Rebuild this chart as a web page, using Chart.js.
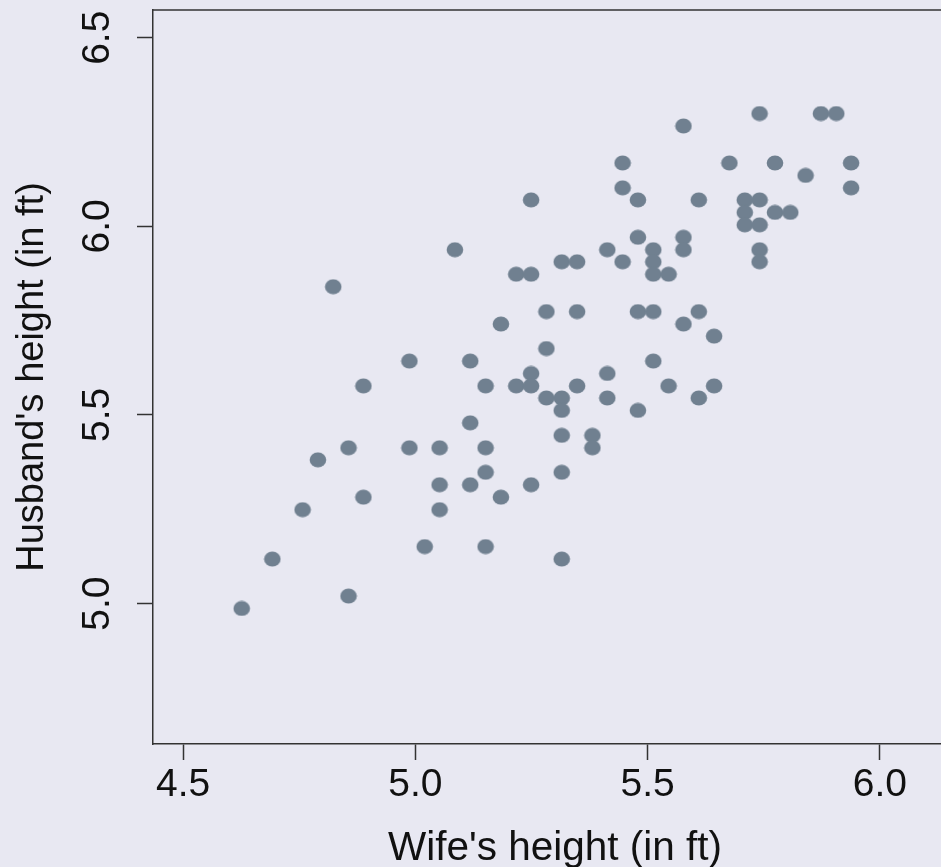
<!DOCTYPE html>
<html>
<head>
<meta charset="utf-8">
<script src="https://cdn.jsdelivr.net/npm/chart.js@4"></script>
<style>
  html, body { margin: 0; padding: 0; background: #e8e8f2; overflow: hidden; }
  #wrap { width: 941px; height: 867px; position: relative; }
</style>
</head>
<body>
<div id="wrap"><canvas id="c"></canvas></div>
<script>
// Heights of married couples, in feet
const wifeHeight = [
  4.626, 4.692, 4.757, 4.790, 4.856, 4.856, 4.823, 4.888, 4.888, 4.987,
  4.987, 5.020, 5.085, 5.052, 5.052, 5.052, 5.118, 5.118, 5.118, 5.151,
  5.151, 5.151, 5.151, 5.184, 5.184, 5.217, 5.217, 5.249, 5.249, 5.249,
  5.249, 5.249, 5.282, 5.282, 5.282, 5.315, 5.315, 5.315, 5.315, 5.315,
  5.315, 5.348, 5.348, 5.348, 5.381, 5.381, 5.413, 5.413, 5.413, 5.446,
  5.446, 5.446, 5.479, 5.479, 5.479, 5.479, 5.512, 5.512, 5.512, 5.512,
  5.512, 5.545, 5.545, 5.577, 5.577, 5.577, 5.577, 5.610, 5.610, 5.610,
  5.643, 5.643, 5.676, 5.709, 5.709, 5.709, 5.741, 5.741, 5.741, 5.741,
  5.741, 5.774, 5.774, 5.807, 5.840, 5.873, 5.906, 5.938, 5.938
];
const husbandHeight = [
  4.987, 5.118, 5.249, 5.381, 5.413, 5.020, 5.840, 5.577, 5.282, 5.643,
  5.413, 5.151, 5.938, 5.413, 5.315, 5.249, 5.643, 5.479, 5.315, 5.577,
  5.413, 5.348, 5.151, 5.741, 5.282, 5.873, 5.577, 6.070, 5.873, 5.610,
  5.577, 5.315, 5.774, 5.676, 5.545, 5.906, 5.545, 5.512, 5.446, 5.348,
  5.118, 5.906, 5.774, 5.577, 5.446, 5.413, 5.938, 5.610, 5.545, 6.168,
  6.102, 5.906, 6.070, 5.971, 5.774, 5.512, 5.938, 5.906, 5.873, 5.774,
  5.643, 5.873, 5.577, 6.266, 5.971, 5.938, 5.741, 6.070, 5.774, 5.545,
  5.709, 5.577, 6.168, 6.070, 6.037, 6.004, 6.299, 6.070, 6.004, 5.938,
  5.906, 6.168, 6.037, 6.037, 6.135, 6.299, 6.299, 6.168, 6.102
];

const xTicks = [4.5, 5.0, 5.5, 6.0];
const xTickLabels = ["4.5", "5.0", "5.5", "6.0"];
const yTicks = [5.0, 5.5, 6.0, 6.5];
const yTickLabels = ["5.0", "5.5", "6.0", "6.5"];
const xTitle = "Wife's height (in ft)";
const yTitle = "Husband's height (in ft)";

const points = wifeHeight.map((w, i) => ({ x: w, y: husbandHeight[i] }));

// filled ellipse marker, slightly wider than tall
function makeDot(color) {
  const c = document.createElement('canvas');
  c.width = 18; c.height = 16;
  const g = c.getContext('2d');
  g.fillStyle = color;
  g.beginPath();
  g.ellipse(9, 8, 8.3, 7.6, 0, 0, Math.PI * 2);
  g.fill();
  return c;
}
const dot = makeDot('#708090');

const FAMILY = '"Liberation Sans", Arial, Helvetica, sans-serif';
const TICK_FONT = '39px ' + FAMILY;
const XTITLE_FONT = '40.5px ' + FAMILY;
const YTITLE_FONT = '38px ' + FAMILY;
const INK = '#111111';
// the plot box runs a little past the right edge of the page
const BOX_WIDTH = 804;

const backdrop = {
  id: 'backdrop',
  beforeDraw(chart) {
    const ctx = chart.ctx;
    ctx.save();
    ctx.fillStyle = '#e8e8f2';
    ctx.fillRect(0, 0, chart.width, chart.height);
    ctx.restore();
  }
};

const frameAndText = {
  id: 'frameAndText',
  afterDraw(chart) {
    const ctx = chart.ctx;
    const a = chart.chartArea;
    const xs = chart.scales.x, ys = chart.scales.y;
    ctx.save();
    // top edge of the plot box
    ctx.strokeStyle = '#333333';
    ctx.lineWidth = 1.5;
    ctx.beginPath();
    ctx.moveTo(a.left, a.top);
    ctx.lineTo(a.right, a.top);
    ctx.stroke();

    ctx.fillStyle = INK;
    ctx.font = TICK_FONT;
    ctx.textAlign = 'center';
    ctx.textBaseline = 'middle';
    // x tick labels
    xTicks.forEach((v, i) => {
      ctx.fillText(xTickLabels[i], xs.getPixelForValue(v), a.bottom + 41.5);
    });
    // y tick labels, rotated
    yTicks.forEach((v, i) => {
      ctx.save();
      ctx.translate(a.left - 55, ys.getPixelForValue(v));
      ctx.rotate(-Math.PI / 2);
      ctx.fillText(yTickLabels[i], 0, 0);
      ctx.restore();
    });
    // axis titles
    ctx.font = XTITLE_FONT;
    ctx.fillText(xTitle, a.left + BOX_WIDTH / 2, a.bottom + 105);
    ctx.font = YTITLE_FONT;
    ctx.save();
    ctx.translate(a.left - 120, (a.top + a.bottom) / 2);
    ctx.rotate(-Math.PI / 2);
    ctx.fillText(yTitle, 0, 0);
    ctx.restore();
    ctx.restore();
  }
};

const axisLine = { display: true, color: '#333333', width: 1.5 };
const outerTicks = {
  display: true,
  drawOnChartArea: false,
  drawTicks: true,
  tickLength: 16,
  tickColor: '#333333',
  tickWidth: 1.5
};

new Chart(document.getElementById('c'), {
  type: 'scatter',
  data: {
    datasets: [{
      data: points,
      pointStyle: dot,
      pointRadius: 8,
      pointHoverRadius: 8,
      backgroundColor: '#708090',
      borderWidth: 0
    }]
  },
  options: {
    responsive: true,
    maintainAspectRatio: false,
    animation: false,
    events: [],
    layout: { autoPadding: false, padding: { left: 137, top: 10, right: 0, bottom: 107 } },
    plugins: { legend: { display: false }, tooltip: { enabled: false } },
    scales: {
      x: {
        type: 'linear',
        min: 4.435,
        max: 6.1315,
        afterBuildTicks: (axis) => { axis.ticks = xTicks.map(v => ({ value: v })); },
        ticks: { display: false },
        grid: outerTicks,
        border: axisLine
      },
      y: {
        type: 'linear',
        min: 4.6277,
        max: 6.5735,
        afterBuildTicks: (axis) => { axis.ticks = yTicks.map(v => ({ value: v })); },
        ticks: { display: false },
        grid: outerTicks,
        border: axisLine
      }
    }
  },
  plugins: [backdrop, frameAndText]
});
</script>
</body>
</html>
